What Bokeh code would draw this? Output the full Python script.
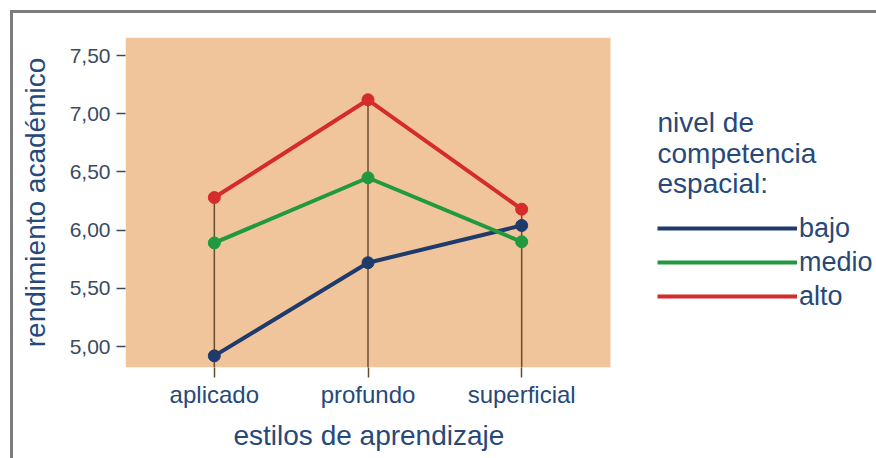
from bokeh.plotting import figure
from bokeh.models import (FixedTicker, Range1d, Label, Legend, LegendItem, Title)
from bokeh.embed import file_html
from bokeh.resources import INLINE

# ---- data ----
categories = ["aplicado", "profundo", "superficial"]
series_names = ["bajo", "medio", "alto"]
bajo = [4.92, 5.72, 6.04]
medio = [5.89, 6.45, 5.90]
alto = [6.28, 7.12, 6.18]
y_ticks = [5.0, 5.5, 6.0, 6.5, 7.0, 7.5]
y_tick_labels = ["5,00", "5,50", "6,00", "6,50", "7,00", "7,50"]
legend_title_lines = ["nivel de", "competencia", "espacial:"]
x_title = "estilos de aprendizaje"
y_title = "rendimiento académico"

# ---- style ----
FONT = "Liberation Sans"
NAVY = "#1f3b6b"
GREEN = "#21993f"
RED = "#d42b2b"
TXT = "#27497a"
TICKTXT = "#3a4b62"
BROWN = "#6b4b2c"
PEACH = "#f1c59b"
colors = [NAVY, GREEN, RED]

# plotting area (peach) geometry
XS, XE_PEACH = -0.578, 2.578
YS, YE = 4.82, 7.655
PEACH_W, FH = 485, 330
FL, FT = 125, 37            # frame left/top on the page
FW = 876 - FL               # frame extends over the legend area
UX = (XE_PEACH - XS) / PEACH_W   # data units per pixel (x)
UY = (YE - YS) / FH              # data units per pixel (y)
XE = XS + FW * UX

xs = list(range(len(categories)))

p = figure(frame_width=FW, frame_height=FH,
           x_range=Range1d(XS, XE), y_range=Range1d(YS, YE),
           output_backend="svg", toolbar_location=None,
           min_border_left=112, min_border_top=24,
           min_border_right=0, min_border_bottom=83)
p.styles = {"border-top": "3px solid #7d7d7d", "border-left": "3px solid #7d7d7d",
            "margin-left": "10px", "margin-top": "10px"}

p.background_fill_color = "white"
p.border_fill_color = "white"
p.outline_line_color = None
p.xgrid.visible = False
p.ygrid.visible = False

# peach plotting area
p.quad(left=[XS], right=[XE_PEACH], bottom=[YS], top=[YE],
       fill_color=PEACH, line_color=None)

# x axis
xa = p.xaxis[0]
xa.ticker = FixedTicker(ticks=xs)
xa.major_label_overrides = {i: c for i, c in zip(xs, categories)}
xa.axis_line_color = None
xa.major_tick_line_color = BROWN
xa.major_tick_line_width = 1.5
xa.major_tick_out = 10
xa.major_tick_in = 0
xa.minor_tick_line_color = None
xa.major_label_text_font = FONT
xa.major_label_text_font_size = "24px"
xa.major_label_text_color = TXT
xa.major_label_standoff = 3

# x axis title, centred under the plotting area
p.add_layout(Title(text=x_title, align="left", offset=108, standoff=15,
                   text_font=FONT, text_font_size="28px",
                   text_font_style="normal", text_color=TXT), "below")

# y axis
ya = p.yaxis[0]
ya.ticker = FixedTicker(ticks=y_ticks)
ya.major_label_overrides = {t: l for t, l in zip(y_ticks, y_tick_labels)}
ya.axis_line_color = None
ya.major_tick_line_color = TICKTXT
ya.major_tick_line_width = 1.5
ya.major_tick_out = 9
ya.major_tick_in = 0
ya.minor_tick_line_color = None
ya.major_label_text_font = FONT
ya.major_label_text_font_size = "21px"
ya.major_label_text_color = TICKTXT
ya.major_label_standoff = 6
ya.axis_label = y_title
ya.axis_label_text_font = FONT
ya.axis_label_text_font_size = "28px"
ya.axis_label_text_font_style = "normal"
ya.axis_label_text_color = TXT
ya.axis_label_standoff = 16

# drop lines from the highest point of each category to the bottom
tops = [max(v) for v in zip(bajo, medio, alto)]
p.segment(x0=xs, y0=tops, x1=xs, y1=[YS] * len(xs), line_color=BROWN, line_width=1.5)

items = []
for name, vals, col in zip(series_names, [bajo, medio, alto], colors):
    r = p.line(xs, vals, line_color=col, line_width=4)
    p.scatter(xs, vals, size=12, fill_color=col, line_color=col)
    items.append(LegendItem(label=name, renderers=[r]))

# legend
legend = Legend(items=items, location=(532, 54), orientation="vertical",
                glyph_width=140, glyph_height=34, label_height=34,
                label_standoff=2, spacing=0, padding=0, margin=0,
                label_text_font=FONT, label_text_font_size="27px",
                label_text_color=TXT, border_line_color=None,
                background_fill_alpha=0)
p.add_layout(legend, "center")


def px_x(px):
    return XS + (px - FL) * UX


def px_y(py):
    return YE - (py - FT) * UY


for i, line in enumerate(legend_title_lines):
    p.add_layout(Label(x=px_x(657), y=px_y(122 + 30.5 * i), text=line,
                       text_font=FONT, text_font_size="28px", text_color=TXT,
                       text_baseline="alphabetic"))

open("out.html", "w").write(file_html(p, INLINE))
